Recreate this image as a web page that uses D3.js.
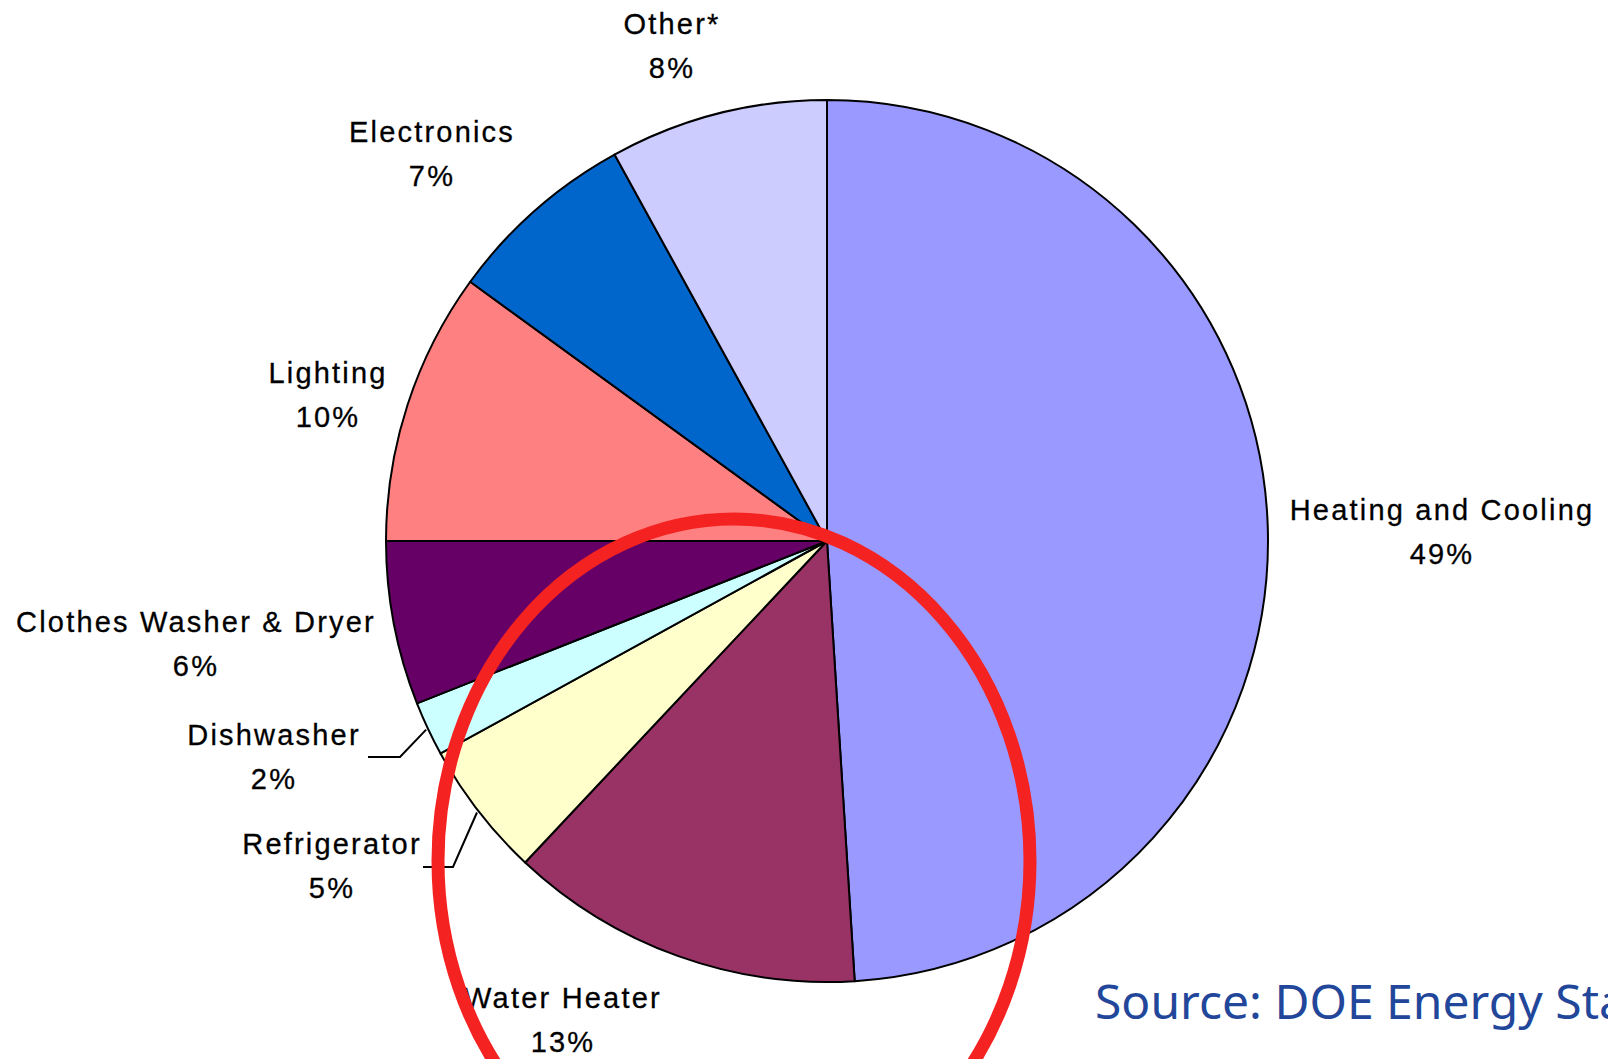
<!DOCTYPE html>
<html>
<head>
<meta charset="utf-8">
<script src="https://cdn.jsdelivr.net/npm/d3@7/dist/d3.min.js"></script>
<style>
  body { margin: 0; padding: 0; background: #fff; overflow: hidden; }
  svg { display: block; }
  .lbl { font-family: "Liberation Sans", Arial, sans-serif; font-size: 29px; letter-spacing: 2.2px; fill: #000; stroke: #000; stroke-width: 0.3px; }
  .src { font-family: "Noto Sans", sans-serif; font-size: 48px; fill: #22479a; }
</style>
</head>
<body>
<script>
// categories, clockwise from 12 o'clock
var categories = ["Heating and Cooling", "Water Heater", "Refrigerator", "Dishwasher",
                  "Clothes Washer & Dryer", "Lighting", "Electronics", "Other*"];
var shares = [49, 13, 5, 2, 6, 10, 7, 8];
var colors = ["#9999ff", "#993366", "#ffffcc", "#ccffff", "#660066", "#ff8080", "#0066cc", "#ccccff"];

// where each label sits (center x, first baseline) and optional leader elbow
var labelPos = [
  {x: 1442, y: 520},
  {x: 563, y: 1008},
  {x: 332, y: 854, elbow: [453, 867], end: [423, 867]},
  {x: 274, y: 745, elbow: [400, 757], end: [368, 757]},
  {x: 196, y: 632},
  {x: 328, y: 383},
  {x: 432, y: 142},
  {x: 672, y: 34}
];

var W = 1608, H = 1059;
var cx = 827, cy = 541, R = 441;

var svg = d3.select("body").append("svg")
  .attr("width", W).attr("height", H);

svg.append("rect").attr("width", W).attr("height", H).attr("fill", "#fff");

var data = categories.map(function(c, i) { return {name: c, value: shares[i], color: colors[i], pos: labelPos[i]}; });

var pie = d3.pie().sort(null).value(function(d) { return d.value; });
var arc = d3.arc().innerRadius(0).outerRadius(R);
var edge = d3.arc().innerRadius(R + 2).outerRadius(R + 2);

var g = svg.append("g").attr("transform", "translate(" + cx + "," + cy + ")");
var arcs = pie(data);

g.selectAll("path.slice")
  .data(arcs)
  .enter().append("path")
  .attr("class", "slice")
  .attr("d", arc)
  .attr("fill", function(d) { return d.data.color; })
  .attr("stroke", "#000")
  .attr("stroke-width", 2)
  .attr("stroke-linejoin", "round");

// leader lines for the two thin slices
arcs.forEach(function(d) {
  var p = d.data.pos;
  if (!p.elbow) return;
  var s = edge.centroid(d);
  var pts = [[s[0] + cx, s[1] + cy], p.elbow, p.end];
  svg.append("path")
    .attr("d", d3.line()(pts))
    .attr("fill", "none")
    .attr("stroke", "#000")
    .attr("stroke-width", 2);
});

// labels
arcs.forEach(function(d) {
  var p = d.data.pos;
  var t = svg.append("text").attr("class", "lbl").attr("text-anchor", "middle");
  t.append("tspan").attr("x", p.x).attr("y", p.y).text(d.data.name);
  t.append("tspan").attr("x", p.x).attr("y", p.y + 44).text(d.data.value + "%");
});

// hand drawn red ring
svg.append("ellipse")
  .attr("cx", 734).attr("cy", 861)
  .attr("rx", 296).attr("ry", 342)
  .attr("fill", "none")
  .attr("stroke", "#f52222")
  .attr("stroke-width", 13);

// source note, runs off the right edge like the original
svg.append("text")
  .attr("class", "src")
  .attr("x", 1095).attr("y", 1019)
  .text("Source: DOE Energy Star");
</script>
</body>
</html>
